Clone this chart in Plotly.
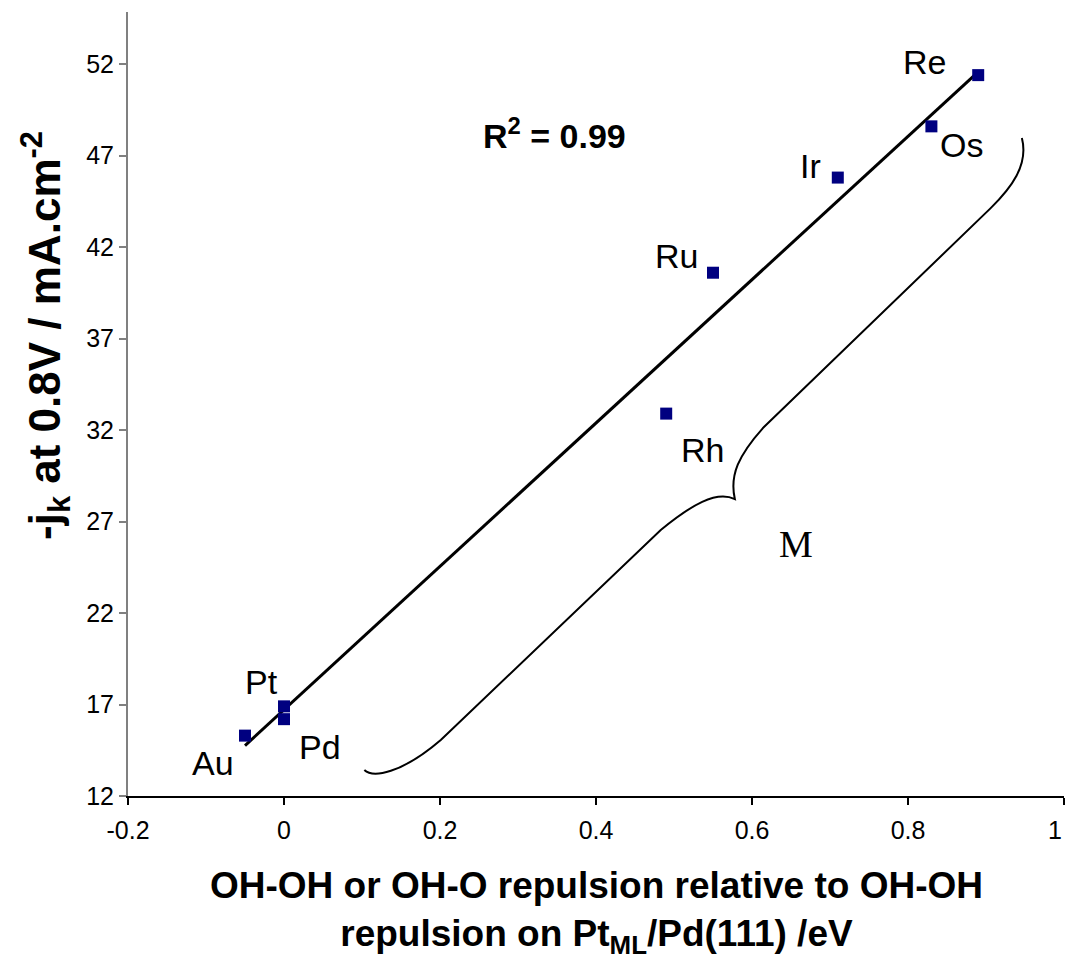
import numpy as np
import plotly.graph_objects as go

# Measured activity versus OH-OH / OH-O repulsion
metals = ["Au", "Pt", "Pd", "Rh", "Ru", "Ir", "Os", "Re"]
repulsion_ev = [-0.05, 0.0, 0.0, 0.49, 0.55, 0.71, 0.83, 0.89]
jk_ma_cm2 = [15.3, 16.9, 16.2, 32.9, 40.6, 45.8, 48.6, 51.4]

# Label offsets (pixels) from each point
label_dx = [-32, -23, 36, 36, -37, -27, 30, -54]
label_dy = [-27, 24, -28, -36, 17, 12, -19, 13]

y_ticks = [12, 17, 22, 27, 32, 37, 42, 47, 52]
x_ticks = [-0.2, 0, 0.2, 0.4, 0.6, 0.8, 1]
x_tick_text = ["-0.2", "0", "0.2", "0.4", "0.6", "0.8", "1"]

# Curly brace grouping the M-series points (data units)
brace = [
    ("M", 0.103, 13.42),
    ("C", 0.114, 12.98), ("", 0.150, 13.20), ("", 0.201, 15.06),
    ("L", 0.483, 26.54),
    ("C", 0.522, 27.90), ("", 0.554, 28.72), ("", 0.578, 28.23),
    ("C", 0.571, 29.54), ("", 0.583, 30.63), ("", 0.614, 32.11),
    ("L", 0.906, 44.13),
    ("C", 0.932, 45.22), ("", 0.955, 46.48), ("", 0.946, 47.96),
]
brace_path = " ".join(f"{cmd}{x},{y}" if cmd else f"{x},{y}" for cmd, x, y in brace)

# Least-squares trend line
slope, intercept = np.polyfit(repulsion_ev, jk_ma_cm2, 1)
fit_x = np.array([min(repulsion_ev), max(repulsion_ev)])
fit_y = slope * fit_x + intercept

FONT = "Liberation Sans, Arial, sans-serif"
TICK_FONT = dict(family=FONT, size=25, color="black")

fig = go.Figure()
fig.add_trace(go.Scatter(
    x=fit_x, y=fit_y, mode="lines",
    line=dict(color="black", width=3), showlegend=False, hoverinfo="skip",
))
fig.add_trace(go.Scatter(
    x=repulsion_ev, y=jk_ma_cm2, mode="markers", text=metals,
    marker=dict(symbol="square", size=12, color="#000080"),
    showlegend=False,
))

annotations = []
for name, x, y, dx, dy in zip(metals, repulsion_ev, jk_ma_cm2, label_dx, label_dy):
    annotations.append(dict(
        x=x, y=y, xref="x", yref="y", text=name, showarrow=False,
        xshift=dx, yshift=dy, font=dict(family=FONT, size=34, color="black"),
    ))

# The last x tick label sits at the right page edge, so it is right-aligned there
axis_tick_text = list(x_tick_text)
last_label = axis_tick_text[-1]
axis_tick_text[-1] = ""

annotations += [
    dict(x=x_ticks[-1], y=12, xref="x", yref="y", showarrow=False,
         text=last_label, xanchor="right", yanchor="middle", yshift=-34,
         font=TICK_FONT),
    dict(x=0.347, y=48.2, xref="x", yref="y", showarrow=False,
         text="<b>R<sup>2</sup> = 0.99</b>",
         font=dict(family=FONT, size=34, color="black")),
    dict(x=0.656, y=25.8, xref="x", yref="y", showarrow=False, text="M",
         font=dict(family="Liberation Serif, Times New Roman, serif", size=38, color="black")),
    dict(x=0.5, y=-0.148, xref="paper", yref="paper", showarrow=False,
         xanchor="center", yanchor="middle",
         text="<b>OH-OH or OH-O repulsion relative to OH-OH<br>repulsion on Pt<sub>ML</sub>/Pd(111) /eV</b>",
         font=dict(family=FONT, size=37, color="black"), align="center"),
    dict(x=-0.0887, y=0.588, xref="paper", yref="paper", showarrow=False,
         xanchor="center", yanchor="middle", textangle=-90,
         text="<b>-j<sub>k</sub> at 0.8V / mA.cm<sup>-2</sup></b>",
         font=dict(family=FONT, size=44, color="black")),
]

fig.update_layout(
    width=1065, height=961,
    margin=dict(l=128, r=1, t=12, b=165),
    paper_bgcolor="white", plot_bgcolor="white",
    annotations=annotations,
    shapes=[dict(type="path", path=brace_path, xref="x", yref="y",
                 line=dict(color="black", width=2))],
)
fig.update_xaxes(
    range=[-0.2, 1], tickvals=x_ticks, ticktext=axis_tick_text,
    showgrid=False, zeroline=False, showline=True, linecolor="black", linewidth=2,
    ticks="outside", ticklen=7, tickwidth=2, tickcolor="black",
    tickfont=TICK_FONT, ticklabelstandoff=4,
)
fig.update_yaxes(
    range=[12, 54.85], tickvals=y_ticks,
    showgrid=False, zeroline=False, showline=True, linecolor="#808080", linewidth=2,
    ticks="outside", ticklen=7, tickwidth=2, tickcolor="#808080",
    tickfont=TICK_FONT, ticklabelstandoff=0,
)

fig.write_html("out.html")
